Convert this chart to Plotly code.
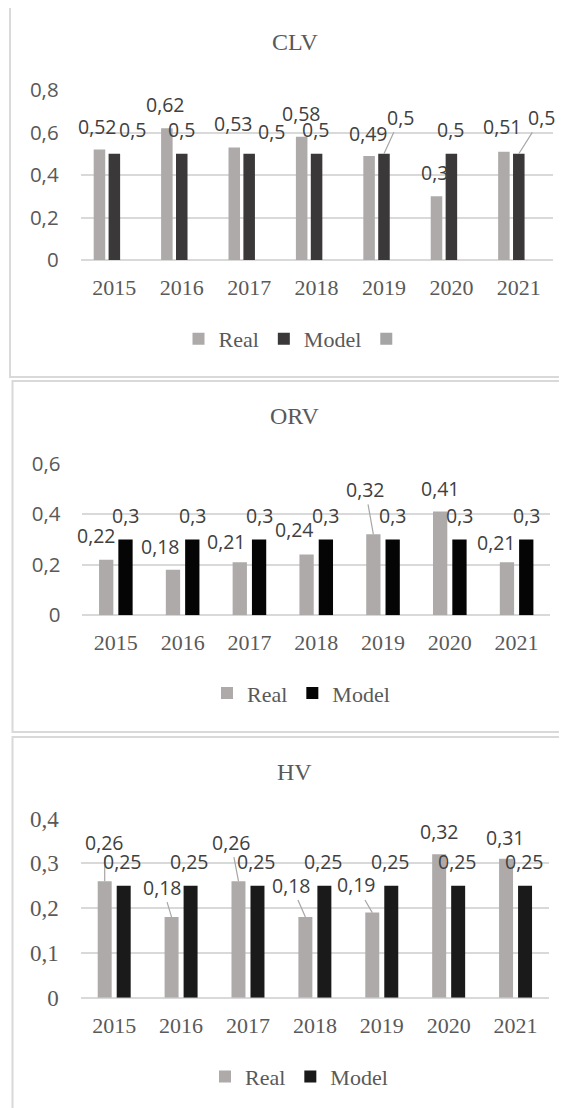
import plotly.graph_objects as go

# ---------------- data ----------------
years = ["2015", "2016", "2017", "2018", "2019", "2020", "2021"]
series_names = ["Real", "Model"]

clv_real = [0.52, 0.62, 0.53, 0.58, 0.49, 0.30, 0.51]
clv_model = [0.5, 0.5, 0.5, 0.5, 0.5, 0.5, 0.5]
orv_real = [0.22, 0.18, 0.21, 0.24, 0.32, 0.41, 0.21]
orv_model = [0.3, 0.3, 0.3, 0.3, 0.3, 0.3, 0.3]
hv_real = [0.26, 0.18, 0.26, 0.18, 0.19, 0.32, 0.31]
hv_model = [0.25, 0.25, 0.25, 0.25, 0.25, 0.25, 0.25]

clv_ticks = [0, 0.2, 0.4, 0.6, 0.8]
orv_ticks = [0, 0.2, 0.4, 0.6]
hv_ticks = [0, 0.1, 0.2, 0.3, 0.4]

# ---------------- label placement (style: pixel offsets of text from bar top, leader line) ----------------
clv_real_lbl = [(-2, -23.5, 0), (-1, -24, 0), (-1, -24, 0), (0, -23.5, 0), (-1, -22.6, 0), (-2, -23.5, 0), (-1, -25, 0)]
clv_model_lbl = [(18.5, -24.5, 0), (0, -24.5, 0), (22, -22, 0), (-1, -24, 0), (16.7, -36.4, 1), (-1, -24.5, 0), (23, -36.4, 1)]
orv_real_lbl = [(-10, -24.6, 0), (-12.4, -23, 0), (-13, -20.5, 0), (-12, -25.3, 0), (-8, -45, 1), (0, -23.3, 0), (-10, -19.5, 0)]
orv_model_lbl = [(0, -24.4, 0)] * 7
hv_real_lbl = [(0, -39, 1), (-9, -30, 1), (-7.4, -39, 1), (-14, -32, 1), (-16, -27.6, 1), (0, -23.3, 0), (-1, -21, 0)]
hv_model_lbl = [(-1, -24, 0)] * 7

# page has an 8px body margin: the figure starts at (8, 8) of the window
OFF = 8
W, H = 567 - OFF, 1108 - OFF


def px(p):
    return (p - OFF) / W


def py(p):
    return 1 - (p - OFF) / H


SANS = "Open Sans"
SERIF = "Liberation Serif"
TXT = "#595959"
LBL = "#404040"
GRID = "#D9D9D9"
REAL_C = "#AEAAAA"

panels = [
    dict(title="CLV", real=clv_real, model=clv_model, ticks=clv_ticks,
         rlbl=clv_real_lbl, mlbl=clv_model_lbl,
         xdom=(80.65, 552.5), ydom=(90, 260), rc=-0.221, mc=0.0, w=0.171,
         mcolor="#3A3838", extra=True, yfont=SANS, ysize=20.5,
         title_y=41.7, leg=(298, 339), box=(10, 6.5, 377)),
    dict(title="ORV", real=orv_real, model=orv_model, ticks=orv_ticks,
         rlbl=orv_real_lbl, mlbl=orv_model_lbl,
         xdom=(82.45, 550), ydom=(463.5, 615.3), rc=-0.1445, mc=0.1445, w=0.214,
         mcolor="#050505", extra=False, yfont=SANS, ysize=20.5,
         title_y=416, leg=(301, 693.3), box=(12.5, 381, 732)),
    dict(title="HV", real=hv_real, model=hv_model, ticks=hv_ticks,
         rlbl=hv_real_lbl, mlbl=hv_model_lbl,
         xdom=(80.75, 549), ydom=(818.5, 997.7), rc=-0.142, mc=0.142, w=0.209,
         mcolor="#1A1A1A", extra=False, yfont=SERIF, ysize=23,
         title_y=771.7, leg=(299, 1076.7), box=(12.5, 737, 1140)),
]


def fmt(v):
    return f"{v:g}".replace(".", ",")


fig = go.Figure()
annotations = []
shapes = []
layout = {}

for i, p in enumerate(panels, start=1):
    sfx = "" if i == 1 else str(i)
    xa, ya = "x" + sfx, "y" + sfx
    leg = "legend" + sfx

    fig.add_trace(go.Bar(x=years, y=p["real"], name=series_names[0], marker_color=REAL_C,
                         marker_line_width=0,
                         width=p["w"], offset=p["rc"] - p["w"] / 2, xaxis=xa, yaxis=ya,
                         legend=leg, cliponaxis=False))
    fig.add_trace(go.Bar(x=years, y=p["model"], name=series_names[1], marker_color=p["mcolor"],
                         marker_line_width=0,
                         width=p["w"], offset=p["mc"] - p["w"] / 2, xaxis=xa, yaxis=ya,
                         legend=leg, cliponaxis=False))
    if p["extra"]:
        fig.add_trace(go.Bar(x=years, y=[None] * len(years), name=" ", marker_color="#A5A5A5",
                             marker_line_width=0,
                             width=p["w"], xaxis=xa, yaxis=ya, legend=leg))

    layout["xaxis" + sfx] = dict(
        domain=[px(p["xdom"][0]), px(p["xdom"][1])], anchor=ya, type="category",
        showgrid=False, zeroline=False, showline=False, ticks="", automargin=False,
        tickfont=dict(family=SERIF, size=22, color=TXT), ticklabelstandoff=12,
        range=[-0.5, len(years) - 0.5], fixedrange=True,
    )
    layout["yaxis" + sfx] = dict(
        domain=[py(p["ydom"][1]), py(p["ydom"][0])], anchor=xa, automargin=False,
        range=[0, p["ticks"][-1]], tickvals=p["ticks"],
        showgrid=True, gridcolor=GRID, gridwidth=1.6,
        zeroline=True, zerolinecolor=GRID, zerolinewidth=1.6, showline=False,
        ticks="", tickfont=dict(family=p["yfont"], size=p["ysize"], color=TXT),
        ticklabelstandoff=21, fixedrange=True,
    )
    layout[leg] = dict(
        orientation="h", x=px(p["leg"][0]), y=py(p["leg"][1]), xanchor="center", yanchor="middle",
        xref="paper", yref="paper", font=dict(family=SERIF, size=22, color=TXT),
        bgcolor="rgba(0,0,0,0)", itemwidth=30, traceorder="normal", tracegroupgap=0,
    )

    # title
    annotations.append(dict(text=p["title"], x=px(294.8), y=py(p["title_y"]), xref="paper", yref="paper",
                            showarrow=False, xanchor="center", yanchor="middle",
                            font=dict(family=SERIF, size=24, color=TXT)))

    # data labels
    for vals, lbls, c in ((p["real"], p["rlbl"], p["rc"]), (p["model"], p["mlbl"], p["mc"])):
        for j, (v, (dx, dy, lead)) in enumerate(zip(vals, lbls)):
            annotations.append(dict(
                x=j + c, y=v, xref=xa, yref=ya, text=fmt(v),
                showarrow=True, arrowhead=0, arrowwidth=1.2, standoff=0,
                arrowcolor="#A6A6A6" if lead else "rgba(0,0,0,0)",
                ax=dx, ay=dy, axref="pixel", ayref="pixel",
                font=dict(family=SANS, size=19.5, color=LBL),
            ))

    # panel border
    bx, bt, bb = p["box"]
    shapes.append(dict(type="rect", xref="paper", yref="paper",
                       x0=px(bx), x1=px(567 + 30), y0=py(bb), y1=py(bt),
                       line=dict(color=GRID, width=2), fillcolor="rgba(0,0,0,0)", layer="below"))

fig.update_layout(
    width=W, height=H, margin=dict(l=0, r=0, t=0, b=0, pad=0, autoexpand=False),
    paper_bgcolor="white", plot_bgcolor="white",
    barmode="overlay", separators=", ",
    annotations=annotations, shapes=shapes, showlegend=True,
    **layout,
)

fig.write_html("out.html")
